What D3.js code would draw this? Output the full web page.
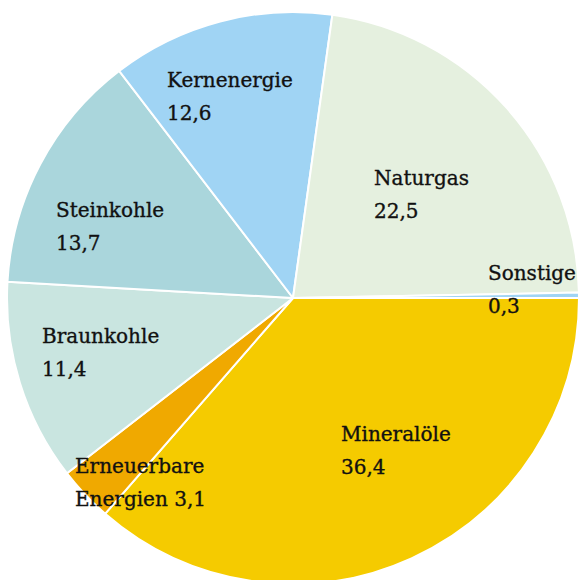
<!DOCTYPE html>
<html>
<head>
<meta charset="utf-8">
<script src="https://cdn.jsdelivr.net/npm/d3@7"></script>
<style>
  body { margin: 0; background: #fff; }
  svg { display: block; }
</style>
</head>
<body>
<svg width="579" height="580"></svg>
<script>
// Energieträger, Anteile in Prozent
var categories = ["Mineralöle", "Erneuerbare Energien", "Braunkohle", "Steinkohle", "Kernenergie", "Naturgas", "Sonstige"];
var values = [36.4, 3.1, 11.4, 13.7, 12.6, 22.5, 0.3];
var valueLabels = ["36,4", "3,1", "11,4", "13,7", "12,6", "22,5", "0,3"];
var colors = ["#f5cb00", "#f0a900", "#c9e5e0", "#aad6dc", "#a0d4f4", "#e5f0df", "#a0d4f4"];

// text lines per slice and where they sit (left edge, first baseline)
var labelLines = [
    ["Mineralöle", "36,4"],
    ["Erneuerbare", "Energien 3,1"],
    ["Braunkohle", "11,4"],
    ["Steinkohle", "13,7"],
    ["Kernenergie", "12,6"],
    ["Naturgas", "22,5"],
    ["Sonstige", "0,3"]
];
var labelPos = [[341, 441], [75, 473], [42, 343], [56, 217], [167, 87], [374, 185], [488, 280]];

var svg = d3.select("svg");
var cx = 293, cy = 298, radius = 286;
var lineGap = 33;

var pie = d3.pie()
    .sort(null)
    .startAngle(Math.PI / 2)
    .endAngle(Math.PI / 2 + 2 * Math.PI)
    .value(function(d){ return d; });

var arc = d3.arc().innerRadius(0).outerRadius(radius);

var g = svg.append("g").attr("transform", "translate(" + cx + "," + cy + ")");

//Slices
g.selectAll("path")
    .data(pie(values))
    .enter()
    .append("path")
    .attr("d", arc)
    .style("fill", function(d, i){ return colors[i]; })
    .style("stroke", "#fff")
    .style("stroke-width", 2)
    .style("stroke-linejoin", "round");

//Labels
var labels = svg.selectAll("text.label")
    .data(labelLines)
    .enter()
    .append("text")
    .attr("class", "label")
    .attr("x", function(d, i){ return labelPos[i][0]; })
    .attr("y", function(d, i){ return labelPos[i][1]; })
    .style("font-family", "'DejaVu Serif', serif")
    .style("font-size", "20px")
    .style("fill", "#111")
    .style("stroke", "#111")
    .style("stroke-width", 0.35);

labels.selectAll("tspan")
    .data(function(d, i){ return d.map(function(t){ return { t: t, i: i }; }); })
    .enter()
    .append("tspan")
    .attr("x", function(d){ return labelPos[d.i][0]; })
    .attr("dy", function(d, j){ return j == 0 ? 0 : lineGap; })
    .text(function(d){ return d.t; });
</script>
</body>
</html>
